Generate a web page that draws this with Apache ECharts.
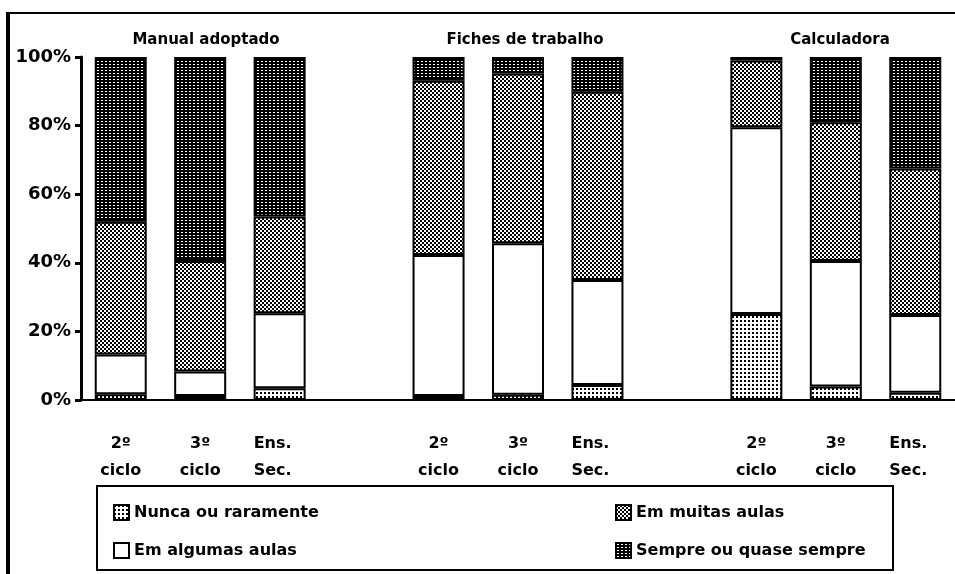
<!DOCTYPE html>
<html>
<head>
<meta charset="utf-8">
<script src="https://cdn.jsdelivr.net/npm/echarts@6/dist/echarts.min.js"></script>
<style>
html,body{margin:0;padding:0;background:#fff;}
#c{width:955px;height:574px;}
</style>
</head>
<body>
<div id="c"></div>
<script>
// ---- data ----
const categories = ['2º\nciclo','3º\nciclo','Ens.\nSec.','', '2º\nciclo','3º\nciclo','Ens.\nSec.','', '2º\nciclo','3º\nciclo','Ens.\nSec.'];
const groupTitles = ['Manual adoptado','Fiches de trabalho','Calculadora'];
const seriesNames = ['Nunca ou raramente','Em algumas aulas','Em muitas aulas','Sempre ou quase sempre'];
const nunca   = [1.7, 1.2, 3.4, '-', 1.2, 1.5, 4.4, '-', 25.1, 3.9, 2.1];
const algumas = [11.6, 7.1, 21.9, '-', 41.1, 44.2, 30.6, '-', 54.4, 36.6, 22.7];
const muitas  = [38.7, 32.2, 28.2, '-', 50.8, 49.5, 54.9, '-', 19.5, 40.5, 42.7];
const sempre  = [48.0, 59.5, 46.5, '-', 6.9, 4.8, 10.1, '-', 1.0, 19.0, 32.5];
const yTicks = [0, 20, 40, 60, 80, 100];

// ---- patterns ----
function pat(w, h, draw) {
  const c = document.createElement('canvas');
  c.width = w; c.height = h;
  const g = c.getContext('2d');
  draw(g);
  return { image: c, repeat: 'repeat' };
}
const pNunca = pat(4, 4, g => { g.fillStyle = '#fff'; g.fillRect(0,0,4,4); g.fillStyle = '#000'; g.fillRect(0,0,2,2); });
const pMuitas = pat(4, 4, g => { g.fillStyle = '#fff'; g.fillRect(0,0,4,4); g.fillStyle = '#000'; g.fillRect(0,0,2,2); g.fillRect(2,2,2,2); });
const pSempre = pat(4, 3, g => { g.fillStyle = '#000'; g.fillRect(0,0,4,3); g.fillStyle = '#fff'; g.fillRect(1,1,2,1); });
const fills = [pNunca, '#ffffff', pMuitas, pSempre];
const datas = [nunca, algumas, muitas, sempre];

const FONT = '"DejaVu Sans", sans-serif';

const chart = echarts.init(document.getElementById('c'), null, { renderer: 'canvas' });
const option = {
  backgroundColor: '#fff',
  animation: false,
  grid: { left: 81, right: 0, top: 57, bottom: 174, containLabel: false },
  title: groupTitles.map((t, i) => ({
    text: t,
    left: [201, 520, 835][i],
    top: 28,
    textAlign: 'center',
    textStyle: { fontFamily: FONT, fontSize: 15, fontWeight: 'bold', color: '#000' }
  })),
  xAxis: {
    type: 'category',
    data: categories,
    axisLine: { show: true, onZero: false, lineStyle: { color: '#000', width: 2 } },
    axisTick: { show: false },
    axisLabel: {
      color: '#000', fontFamily: FONT, fontSize: 16, fontWeight: 'bold', lineHeight: 27, margin: 30, interval: 0,
      formatter: v => v.indexOf('Ens') === 0 ? v.split('\n').map(s => '{l|' + s + '}').join('\n') : v,
      rich: { l: { fontFamily: FONT, fontSize: 16, fontWeight: 'bold', color: '#000', lineHeight: 27, padding: [0, 14, 0, 0] } }
    },
    splitLine: { show: false }
  },
  yAxis: {
    type: 'value',
    min: 0, max: 100, interval: 20,
    axisLine: { show: true, lineStyle: { color: '#000', width: 3 } },
    axisTick: { show: true, length: 6, lineStyle: { color: '#000', width: 3 } },
    axisLabel: { color: '#000', fontFamily: FONT, fontSize: 18, fontWeight: 'bold', margin: 10,
      formatter: v => yTicks.indexOf(v) >= 0 ? v + '%' : '' },
    splitLine: { show: false }
  },
  legend: [
    { left: 108, top: 499, orient: 'vertical', icon: 'rect', itemWidth: 15, itemHeight: 15, itemGap: 21,
      data: [seriesNames[0], seriesNames[1]],
      textStyle: { fontFamily: FONT, fontSize: 16, fontWeight: 'bold', color: '#000' } },
    { left: 610, top: 499, orient: 'vertical', icon: 'rect', itemWidth: 15, itemHeight: 15, itemGap: 21,
      data: [seriesNames[2], seriesNames[3]],
      textStyle: { fontFamily: FONT, fontSize: 16, fontWeight: 'bold', color: '#000' } }
  ],
  series: seriesNames.map((n, i) => ({
    name: n,
    type: 'bar',
    stack: 'total',
    barWidth: 52,
    data: datas[i],
    itemStyle: { color: fills[i], borderColor: '#000', borderWidth: 2 },
    emphasis: { disabled: true }
  })),
  graphic: [
    { type: 'rect', shape: { x: 97, y: 486, width: 796, height: 84 }, style: { fill: 'none', stroke: '#000', lineWidth: 2 }, z: 10 },
    { type: 'line', shape: { x1: 8, y1: 12, x2: 8, y2: 574 }, style: { stroke: '#000', lineWidth: 4 } },
    { type: 'line', shape: { x1: 6, y1: 13, x2: 955, y2: 13 }, style: { stroke: '#000', lineWidth: 2 } }
  ]
};
chart.setOption(option);
</script>
</body>
</html>
